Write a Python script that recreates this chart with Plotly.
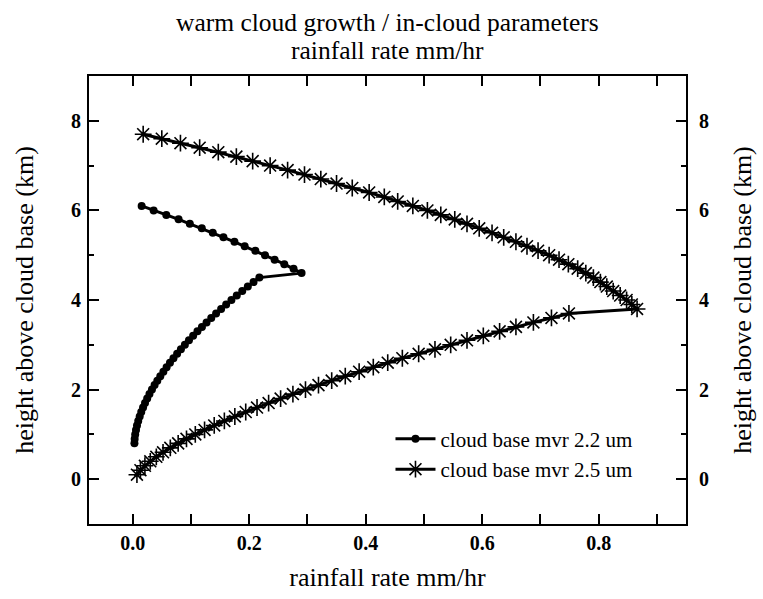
import plotly.graph_objects as go

# series 1: cloud base mvr 2.2 um
h_22 = [0.8, 0.9, 1.0, 1.1, 1.2, 1.3, 1.4, 1.5, 1.6, 1.7, 1.8, 1.9, 2.0, 2.1, 2.2, 2.3, 2.4, 2.5, 2.6, 2.7,
        2.8, 2.9, 3.0, 3.1, 3.2, 3.3, 3.4, 3.5, 3.6, 3.7, 3.8, 3.9, 4.0, 4.1, 4.2, 4.3, 4.4, 4.5,
        4.6,
        4.7, 4.8, 4.9, 5.0, 5.1, 5.2, 5.3, 5.4, 5.5, 5.6, 5.7, 5.8, 5.9, 6.0, 6.1]
r_22 = [0.003, 0.0034, 0.0043, 0.0057, 0.0074, 0.0095, 0.0120, 0.0147, 0.0178, 0.0212, 0.0249, 0.0288,
        0.0331, 0.0376, 0.0423, 0.0474, 0.0527, 0.0582, 0.0640, 0.0700, 0.0763, 0.0828, 0.0896, 0.0966,
        0.1038, 0.1112, 0.1189, 0.1268, 0.1349, 0.1432, 0.1518, 0.1605, 0.1695, 0.1787, 0.1881, 0.1977,
        0.2075, 0.2175,
        0.290,
        0.2762, 0.2603, 0.2437, 0.2272, 0.2106, 0.1923, 0.1747, 0.1558, 0.1375, 0.1187, 0.0981, 0.0788,
        0.0577, 0.0360, 0.0154]

# series 2: cloud base mvr 2.5 um
h_25 = [0.1, 0.2, 0.3, 0.4, 0.5, 0.6, 0.7, 0.8, 0.9, 1.0, 1.1, 1.2, 1.3, 1.4, 1.5, 1.6, 1.7, 1.8, 1.9, 2.0,
        2.1, 2.2, 2.3, 2.4, 2.5, 2.6, 2.7, 2.8, 2.9, 3.0, 3.1, 3.2, 3.3, 3.4, 3.5, 3.6, 3.7,
        3.8,
        3.9, 4.0, 4.1, 4.2, 4.3, 4.4, 4.5, 4.6, 4.7, 4.8, 4.9, 5.0, 5.1, 5.2, 5.3, 5.4, 5.5, 5.6, 5.7,
        5.8, 5.9, 6.0, 6.1, 6.2, 6.3, 6.4, 6.5, 6.6, 6.7, 6.8, 6.9, 7.0, 7.1, 7.2, 7.3, 7.4, 7.5, 7.6, 7.7]
r_25 = [0.0073, 0.0133, 0.0210, 0.0302, 0.0406, 0.0521, 0.0646, 0.0781, 0.0924, 0.1075, 0.1234, 0.1400,
        0.1574, 0.1754, 0.1941, 0.2135, 0.2334, 0.2540, 0.2751, 0.2967, 0.3190, 0.3417, 0.3650, 0.3888,
        0.4131, 0.4379, 0.463, 0.491, 0.519, 0.546, 0.574, 0.602, 0.630, 0.658, 0.688, 0.719, 0.749,
        0.866,
        0.857, 0.848, 0.837, 0.825, 0.814, 0.803, 0.791, 0.778, 0.764, 0.748, 0.732, 0.715, 0.696, 0.677,
        0.658, 0.637, 0.617, 0.595, 0.574, 0.553, 0.529, 0.506, 0.481, 0.455, 0.432, 0.406, 0.377, 0.350,
        0.323, 0.295, 0.266, 0.236, 0.206, 0.178, 0.147, 0.115, 0.082, 0.050, 0.018]

names = ["cloud base mvr 2.2 um", "cloud base mvr 2.5 um"]
title_lines = ["warm cloud growth / in-cloud parameters", "rainfall rate mm/hr"]
x_ticks = [0.0, 0.2, 0.4, 0.6, 0.8]
y_ticks = [0, 2, 4, 6, 8]

FONT = "Liberation Serif"

fig = go.Figure()
fig.add_trace(go.Scatter(x=r_22, y=h_22, mode="lines+markers", name=names[0],
                         line=dict(color="black", width=3),
                         marker=dict(symbol="circle", size=8, color="black")))
fig.add_trace(go.Scatter(x=r_25, y=h_25, mode="lines+markers", name=names[1],
                         line=dict(color="black", width=3),
                         marker=dict(symbol="asterisk-open", size=14, color="black",
                                     line=dict(color="black", width=1.6))))
fig.add_trace(go.Scatter(x=[None], y=[None], yaxis="y2", showlegend=False, hoverinfo="skip"))

tickfont = dict(family=FONT, size=20, color="black", weight="bold")
titlefont = dict(family=FONT, size=26, color="black")
headfont = dict(family=FONT, size=25.5, color="black")

common = dict(showline=True, linecolor="black", linewidth=2, ticks="inside", ticklen=10,
              tickwidth=2, tickcolor="black", showgrid=False, zeroline=False, tickfont=tickfont)

fig.update_layout(
    width=763, height=599,
    margin=dict(l=89, r=75, t=76, b=74),
    paper_bgcolor="white", plot_bgcolor="white",
    xaxis=dict(range=[-0.075, 0.95], tickvals=x_ticks, ticktext=["%.1f" % v for v in x_ticks],
               mirror="allticks",
               minor=dict(ticks="inside", ticklen=5, tickwidth=2, tickcolor="black", dtick=0.1, tick0=0),
               title=dict(text="rainfall rate mm/hr", font=titlefont, standoff=15),
               **common),
    yaxis=dict(range=[-1, 9], tickvals=y_ticks, mirror="allticks", ticklabelstandoff=2,
               minor=dict(ticks="inside", ticklen=5, tickwidth=2, tickcolor="black", dtick=1, tick0=0),
               title=dict(text="height above cloud base (km)", font=titlefont, standoff=30),
               **common),
    yaxis2=dict(range=[-1, 9], tickvals=y_ticks, overlaying="y", side="right",
                showline=False, ticks="outside", ticklen=8, tickcolor="rgba(0,0,0,0)",
                showgrid=False, zeroline=False, tickfont=tickfont,
                title=dict(text="height above cloud base (km)", font=titlefont, standoff=24)),
    legend=dict(x=0.505, y=0.235, xanchor="left", yanchor="top", bgcolor="rgba(0,0,0,0)",
                font=dict(family=FONT, size=21, color="black"), tracegroupgap=0,
                itemwidth=40),
    showlegend=True,
    annotations=[
        dict(text=title_lines[0], x=0.5, xref="paper", y=1.1203, yref="paper",
             xanchor="center", yanchor="middle", showarrow=False, font=headfont),
        dict(text=title_lines[1], x=0.5, xref="paper", y=1.0579, yref="paper",
             xanchor="center", yanchor="middle", showarrow=False, font=headfont),
    ],
)

fig.write_html("out.html")
